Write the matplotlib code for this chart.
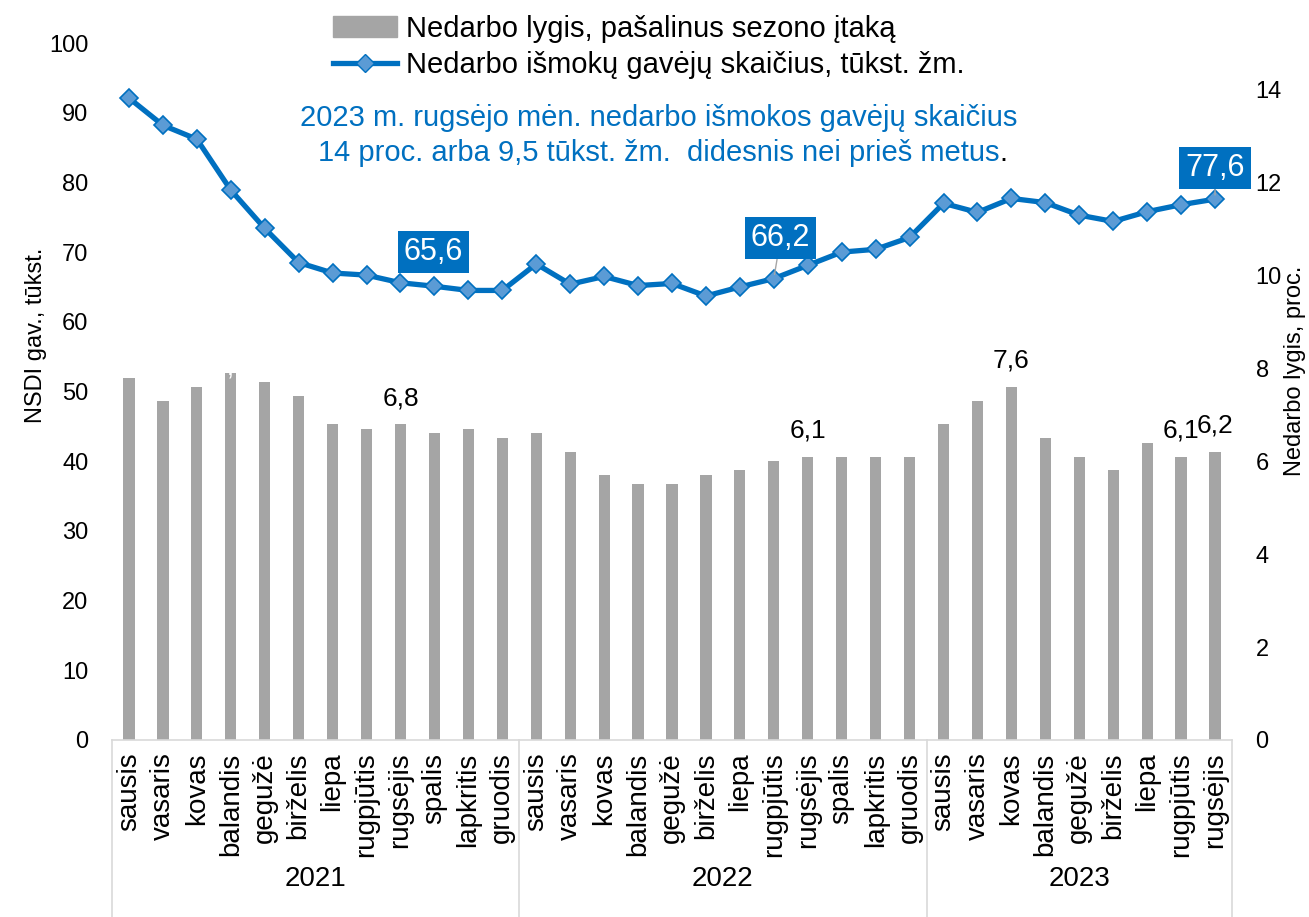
import numpy as np
import matplotlib
matplotlib.use("Agg")
import matplotlib.pyplot as plt
import matplotlib.transforms as mtransforms

plt.rcParams['font.family'] = ['Liberation Sans', 'DejaVu Sans']

months = ["sausis", "vasaris", "kovas", "balandis", "gegužė", "birželis", "liepa",
          "rugpjūtis", "rugsėjis", "spalis", "lapkritis", "gruodis"]
years = ["2021", "2022", "2023"]
labels = months + months + months[:9]

# Nedarbo lygis, pašalinus sezono įtaką (proc.)
rate = [7.8, 7.3, 7.6, 7.9, 7.7, 7.4, 6.8, 6.7, 6.8, 6.6, 6.7, 6.5,
        6.6, 6.2, 5.7, 5.5, 5.5, 5.7, 5.8, 6.0, 6.1, 6.1, 6.1, 6.1,
        6.8, 7.3, 7.6, 6.5, 6.1, 5.8, 6.4, 6.1, 6.2]
# Nedarbo išmokų gavėjų skaičius, tūkst. žm.
benef = [92.1, 88.2, 86.2, 78.9, 73.4, 68.5, 67.0, 66.7, 65.6, 65.1, 64.5, 64.5,
         68.3, 65.4, 66.5, 65.2, 65.5, 63.7, 65.0, 66.2, 68.1, 70.0, 70.4, 72.1,
         77.0, 75.7, 77.7, 77.1, 75.3, 74.4, 75.8, 76.8, 77.6]

bar_labels = {8: "6,8", 20: "6,1", 26: "7,6", 31: "6,1", 32: "6,2"}
line_labels = {8: "65,6", 19: "66,2", 32: "77,6"}

blue = "#0070C0"
x = np.arange(len(labels))

fig = plt.figure(figsize=(13.09, 9.17), dpi=100)
ax = fig.add_axes([112/1309, 1-740/917, 1120/1309, 697/917])
ax2 = ax.twinx()

# bars on right axis
ax2.bar(x, rate, width=0.33, color="#A5A5A5", zorder=1)
ax2.set_ylim(0, 15)
ax2.set_yticks(np.arange(0, 15, 2))
for i, t in bar_labels.items():
    ax2.text(x[i], rate[i] + 0.3, t, ha="center", va="bottom", fontsize=19)
ax2.text(x[3], rate[3] - 0.15, "7,9", ha="center", va="bottom", fontsize=19, color="white")

# line on left axis (drawn above bars)
ax.set_zorder(ax2.get_zorder() + 1)
ax.patch.set_visible(False)
ax.plot(x, benef, color=blue, lw=3.8, marker="D", ms=9, mfc="#5B9BD5", mec=blue, mew=1.2)
ax.set_ylim(0, 100)
ax.set_yticks(np.arange(0, 101, 10))
ax.set_xlim(-0.5, len(labels) - 0.5)

box = dict(boxstyle="square,pad=0.2", fc=blue, ec="none")
ax.annotate(line_labels[8], (x[8], benef[8]), xytext=(8.97, 70.0), ha="center", va="center",
            fontsize=22, color="white", bbox=box)
ax.annotate(line_labels[19], (x[19], benef[19]), xytext=(19.2, 72.0), ha="center", va="center",
            fontsize=22, color="white", bbox=box,
            arrowprops=dict(arrowstyle="-", color="#A6A6A6", lw=1, shrinkA=0, shrinkB=3))
ax.annotate(line_labels[32], (x[32], benef[32]), xytext=(32.0, 82.1), ha="center", va="center",
            fontsize=22, color="white", bbox=box,
            arrowprops=dict(arrowstyle="-", color="#A6A6A6", lw=1, shrinkA=0, shrinkB=3))

# axes styling
for a in (ax, ax2):
    for s in ("top", "left", "right"):
        a.spines[s].set_visible(False)
    a.tick_params(axis="y", length=0, labelsize=17, pad=17)
ax.spines["bottom"].set_color("#D9D9D9")
ax.spines["bottom"].set_linewidth(1.2)
ax2.spines["bottom"].set_visible(False)
ax.set_xticks(x)
ax.set_xticklabels(labels, rotation=90, fontsize=20)
ax.tick_params(axis="x", length=0, pad=9)

ax.set_ylabel("NSDI gav., tūkst.", fontsize=17)
ax.yaxis.set_label_coords(-0.058, 0.58)
ax2.set_ylabel("Nedarbo lygis, proc.", fontsize=17)
ax2.yaxis.set_label_coords(1.046, 0.53)

# year groups under month labels
trans = mtransforms.blended_transform_factory(ax.transData, ax.transAxes)
for b in [-0.5, 11.5, 23.5, 32.5]:
    ax.plot([b, b], [0, -0.26], transform=trans, color="#D9D9D9", lw=1.2, clip_on=False)
for k, yr in enumerate(years):
    start = 12 * k
    end = min(12 * k + 11, len(labels) - 1)
    ax.text((start + end) / 2, -0.2, yr, transform=trans, ha="center", va="center", fontsize=20)

# note
ax.text(15.6, 89.3, "2023 m. rugsėjo mėn. nedarbo išmokos gavėjų skaičius",
        ha="center", va="center", fontsize=21, color=blue)
t2 = ax.text(15.6, 84.2, "14 proc. arba 9,5 tūkst. žm.  didesnis nei prieš metus",
             ha="center", va="center", fontsize=21, color=blue)
ax.annotate(".", xy=(1, 0), xycoords=t2, ha="left", va="bottom", fontsize=21, color="black")

# legend
h1 = plt.Rectangle((0, 0), 1, 1, color="#A5A5A5")
h2 = plt.Line2D([], [], color=blue, lw=3.8, marker="D", ms=9, mfc="#5B9BD5", mec=blue)
fig.legend([h1, h2], ["Nedarbo lygis, pašalinus sezono įtaką", "Nedarbo išmokų gavėjų skaičius, tūkst. žm."],
           loc="upper left", bbox_to_anchor=(318/1309, 1.0), frameon=False, fontsize=21,
           handlelength=2.2, handletextpad=0.3, labelspacing=0.3, borderaxespad=0.1)

fig.savefig("out.png", dpi=100)
